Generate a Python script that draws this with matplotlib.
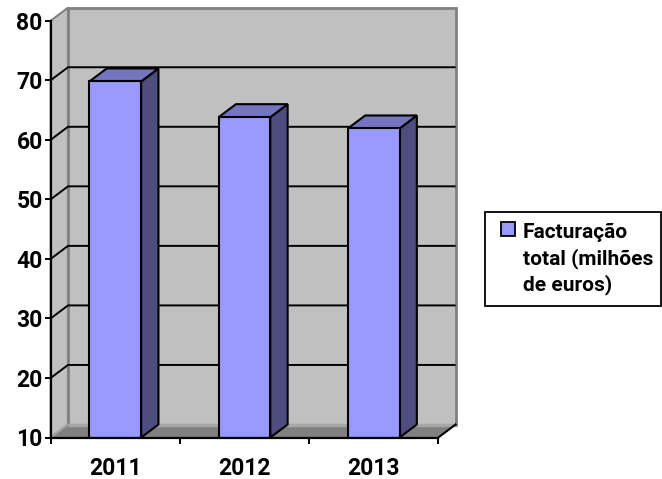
import matplotlib
matplotlib.use("Agg")
import matplotlib.pyplot as plt
from matplotlib.patches import Polygon, Rectangle

# ---- data ----
categories = ["2011", "2012", "2013"]
values = [69.8, 63.8, 61.9]
series_name = "Facturação\ntotal (milhões\nde euros)"
yticks = [10, 20, 30, 40, 50, 60, 70, 80]

# ---- style ----
FONT = "Roboto"
FRONT = "#9999FF"
TOP = "#7474BF"
SIDE = "#4D4D80"
WALL = "#C0C0C0"
WALL_EDGE = "#808080"
FLOOR = "#808080"

W, H = 662, 479
fig = plt.figure(figsize=(W / 100, H / 100), dpi=100)

# front plane of the plot area in pixels
x0, x1 = 50.7, 438.3
y_top, y_bot = 20.7, 437.5
ax = fig.add_axes([x0 / W, (H - y_bot) / H, (x1 - x0) / W, (y_bot - y_top) / H])
ax.set_xlim(-0.5, len(categories) - 0.5)
ax.set_ylim(yticks[0], yticks[-1])
ax.patch.set_visible(False)

xs_per_px = (len(categories)) / (x1 - x0)
ys_per_px = (yticks[-1] - yticks[0]) / (y_bot - y_top)
DX = 17.3 * xs_per_px
DY = 13.0 * ys_per_px

xl, xr = -0.5, len(categories) - 0.5
yb, yt = yticks[0], yticks[-1]

# back wall
ax.add_patch(Polygon([(xl + DX, yb + DY), (xr + DX, yb + DY), (xr + DX, yt + DY), (xl + DX, yt + DY)],
                     closed=True, facecolor=WALL, edgecolor=WALL_EDGE, lw=2.0,
                     clip_on=False, zorder=0.5))
# left wall
ax.add_patch(Polygon([(xl, yb), (xl + DX, yb + DY), (xl + DX, yt + DY), (xl, yt)],
                     closed=True, facecolor=WALL, edgecolor=WALL_EDGE, lw=1.5,
                     clip_on=False, zorder=0.6))
# gridlines
for v in yticks[1:-1]:
    ax.plot([xl, xl + DX, xr + DX], [v, v + DY, v + DY], color="black", lw=1.4,
            clip_on=False, zorder=0.8, solid_capstyle="butt")
# floor
ax.add_patch(Polygon([(xl, yb), (xr, yb), (xr + DX, yb + DY), (xl + DX, yb + DY)],
                     closed=True, facecolor=FLOOR, edgecolor="none",
                     clip_on=False, zorder=0.9))
ax.plot([xl + DX, xr + DX], [yb + DY, yb + DY], color="#A6A6A6", lw=2.5,
        clip_on=False, zorder=0.95, solid_capstyle="butt")
ax.plot([xl, xl + DX], [yb, yb + DY], color="#A6A6A6", lw=1.2,
        clip_on=False, zorder=0.95)
ax.plot([xr, xr + DX], [yb, yb + DY], color="black", lw=1.5,
        clip_on=False, zorder=0.95)

# bars
bw = 0.4
xpos = list(range(len(categories)))
ax.bar(xpos, [v - yb for v in values], bottom=yb, width=bw, color=FRONT,
       edgecolor="black", lw=1.5, zorder=2.2)
for i, v in zip(xpos, values):
    ax.add_patch(Polygon([(i + bw / 2, yb), (i + bw / 2 + DX, yb + DY), (i + bw / 2 + DX, v + DY), (i + bw / 2, v)],
                         closed=True, facecolor=SIDE, edgecolor="black", lw=1.5,
                         clip_on=False, zorder=2.0, joinstyle="miter"))
    ax.add_patch(Polygon([(i - bw / 2, v), (i + bw / 2, v), (i + bw / 2 + DX, v + DY), (i - bw / 2 + DX, v + DY)],
                         closed=True, facecolor=TOP, edgecolor="black", lw=1.5,
                         clip_on=False, zorder=2.1, joinstyle="miter"))

# axes / ticks
for s in ["top", "right"]:
    ax.spines[s].set_visible(False)
for s in ["left", "bottom"]:
    ax.spines[s].set_linewidth(1.6)
    ax.spines[s].set_zorder(3)
ax.set_yticks(yticks)
ax.set_yticklabels([str(t) for t in yticks], fontfamily=FONT, fontweight="bold", fontsize=16.5)
ax.tick_params(axis="y", length=4.3, width=1.4, pad=1.5, direction="out")
ax.set_xticks([xl + k for k in range(len(categories) + 1)])
ax.set_xticklabels([])
ax.set_xticks(xpos, minor=True)
ax.set_xticklabels(categories, minor=True, fontfamily=FONT, fontweight="bold", fontsize=16.5)
ax.tick_params(axis="x", which="major", length=4.0, width=1.4, direction="out")
ax.tick_params(axis="x", which="minor", length=0, pad=14)

# legend (manual)
fig.patches.append(Rectangle((485 / W, 1 - 306 / H), (661 - 485) / W, (306 - 211.7) / H,
                             transform=fig.transFigure, facecolor="white", edgecolor="black",
                             lw=1.3, zorder=5))
fig.patches.append(Rectangle((501 / W, 1 - 235.5 / H), 14 / W, 14 / H,
                             transform=fig.transFigure, facecolor=FRONT, edgecolor="black",
                             lw=1.3, zorder=6))
for k, line in enumerate(series_name.split("\n")):
    fig.text(523 / W, 1 - (238 + 26 * k) / H, line, fontfamily=FONT, fontweight="bold",
             fontsize=15, va="baseline", ha="left", zorder=7)

fig.savefig("out.png", dpi=100)
